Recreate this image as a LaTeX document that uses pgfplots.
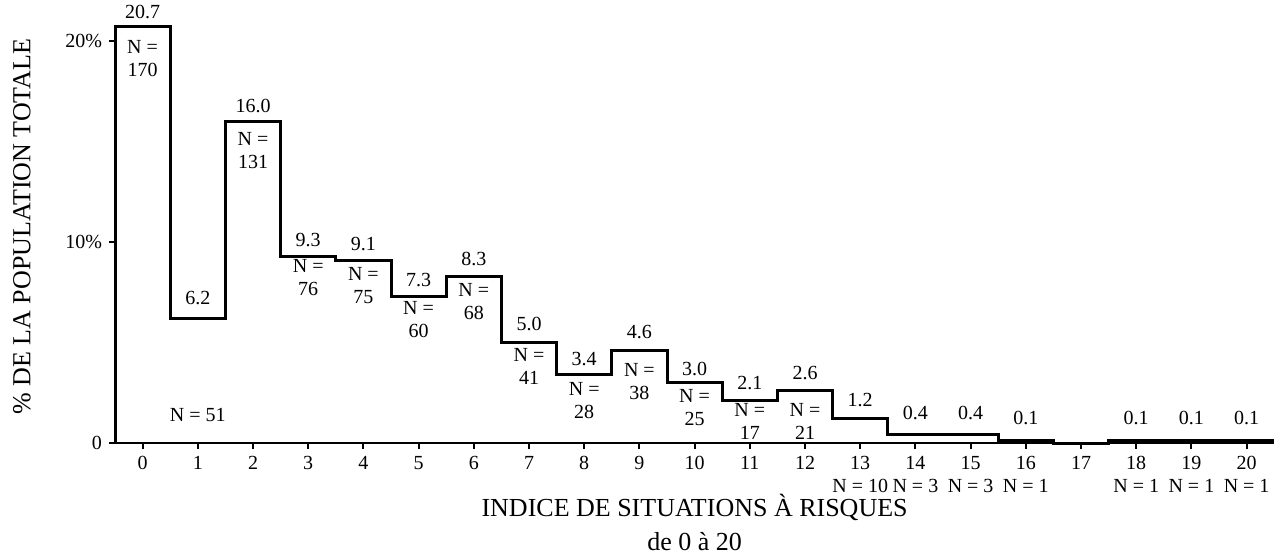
\documentclass[border=0pt]{standalone}
\usepackage{fontspec}
\setmainfont{Liberation Serif}
\usepackage{pgfplots}
\pgfplotsset{compat=1.18}
\begin{document}
\begin{tikzpicture}
\useasboundingbox (-57.5pt,-57pt) rectangle (581pt,221.5pt);
\begin{axis}[
  scale only axis,
  width=579.6pt, height=208pt,
  xmin=-0.5, xmax=20.5, ymin=0, ymax=20.7,
  axis x line=bottom, axis y line=left,
  axis line style={-, line width=1.3pt},
  clip=false,
  xtick={0,...,20},
  xticklabels={0,1,2,3,4,5,6,7,8,9,10,11,12,{13\\N = 10},{14\\N = 3},{15\\N = 3},{16\\N = 1},17,{18\\N = 1},{19\\N = 1},{20\\N = 1}},
  xticklabel style={align=center, font=\fontsize{10}{11.5}\selectfont},
  ytick={0,10,20},
  yticklabels={0,10\%,20\%},
  yticklabel style={font=\fontsize{10}{11.5}\selectfont},
  tick align=outside,
  major tick length=3pt,
  tick style={black, line width=1pt},
  xlabel={INDICE DE SITUATIONS À RISQUES\\de 0 à 20},
  xlabel style={align=center, font=\fontsize{13}{17}\selectfont, at={(axis description cs:0.5,0)}, anchor=north, yshift=-22pt},
  ylabel={\% DE LA POPULATION TOTALE},
  ylabel style={font=\fontsize{13}{15}\selectfont, at={(axis description cs:0,0.52)}, anchor=center, yshift=46.5pt},
]
\addplot[const plot mark left, black, line width=1.5pt, mark=none] coordinates {
(-0.5,0) (-0.5,20.7) (0.5,6.2) (1.5,16.0) (2.5,9.3) (3.5,9.1) (4.5,7.3) (5.5,8.3) (6.5,5.0) (7.5,3.4) (8.5,4.6) (9.5,3.0) (10.5,2.1) (11.5,2.6) (12.5,1.2) (13.5,0.4) (14.5,0.4) (15.5,0.1) (16.5,0) (17.5,0.1) (18.5,0.1) (19.5,0.1) (20.5,0.1)};

\begin{scope}[every node/.style={font=\fontsize{10}{11.5}\selectfont, align=center, inner sep=0pt}]
% value labels
\node at (axis cs:0,21.44) {20.7};
\node at (axis cs:1,7.21) {6.2};
\node at (axis cs:2,16.77) {16.0};
\node at (axis cs:3,10.10) {9.3};
\node at (axis cs:4,9.90) {9.1};
\node at (axis cs:5,8.11) {7.3};
\node at (axis cs:6,9.15) {8.3};
\node at (axis cs:7,5.92) {5.0};
\node at (axis cs:8,4.18) {3.4};
\node at (axis cs:9,5.52) {4.6};
\node at (axis cs:10,3.68) {3.0};
\node at (axis cs:11,2.99) {2.1};
\node at (axis cs:12,3.48) {2.6};
\node at (axis cs:13,2.14) {1.2};
\node at (axis cs:14,1.49) {0.4};
\node at (axis cs:15,1.49) {0.4};
\node at (axis cs:16,1.24) {0.1};
\node at (axis cs:18,1.24) {0.1};
\node at (axis cs:19,1.24) {0.1};
\node at (axis cs:20,1.24) {0.1};
% N labels
\node at (axis cs:0,19.13) {N =\\170};
\node at (axis cs:1,1.39) {N = 51};
\node at (axis cs:2,14.55) {N =\\131};
\node at (axis cs:3,8.21) {N =\\76};
\node at (axis cs:4,7.81) {N =\\75};
\node at (axis cs:5,6.12) {N =\\60};
\node at (axis cs:6,7.06) {N =\\68};
\node at (axis cs:7,3.81) {N =\\41};
\node at (axis cs:8,2.09) {N =\\28};
\node at (axis cs:9,3.08) {N =\\38};
\node at (axis cs:10,1.77) {N =\\25};
\node at (axis cs:11,1.09) {N =\\17};
\node at (axis cs:12,1.09) {N =\\21};
\end{scope}
\end{axis}
\end{tikzpicture}
\end{document}
